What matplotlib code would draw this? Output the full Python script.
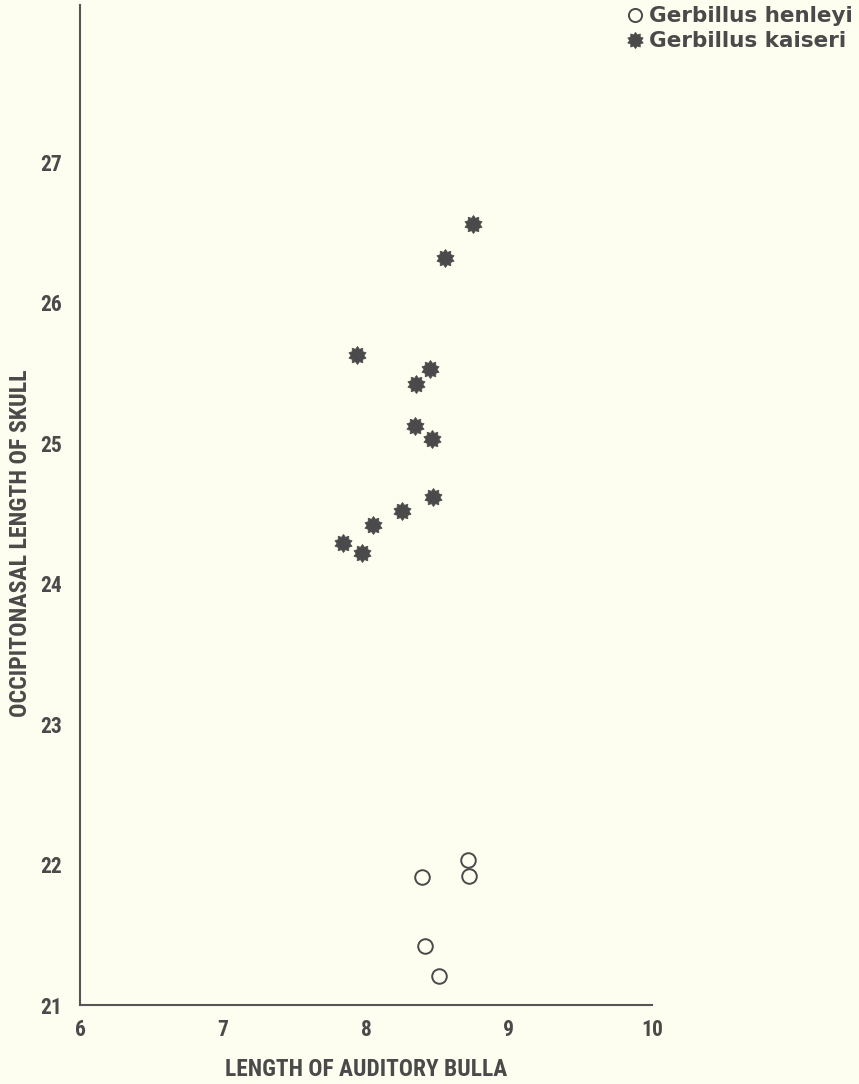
import matplotlib
matplotlib.use('Agg')
import matplotlib.pyplot as plt
import numpy as np
from matplotlib.path import Path

# data
henleyi_bulla = [8.71, 8.72, 8.39, 8.41, 8.51]
henleyi_skull = [22.03, 21.92, 21.91, 21.42, 21.21]

kaiseri_bulla = [8.75, 8.55, 7.94, 8.45, 8.35, 8.34, 8.46, 8.47, 8.25, 8.05, 7.84, 7.97]
kaiseri_skull = [26.56, 26.32, 25.63, 25.53, 25.42, 25.12, 25.03, 24.62, 24.52, 24.42, 24.29, 24.22]

x_ticks = [6, 7, 8, 9, 10]
y_ticks = [21, 22, 23, 24, 25, 26, 27]

bg = '#fdfdf0'
ink = '#4a4a4a'
narrow = ['Roboto Condensed', 'Liberation Sans Narrow', 'Roboto']

# gear-like star marker for kaiseri
n = 10
ang = np.linspace(0, 2 * np.pi, 2 * n, endpoint=False) + np.pi / 2
rad = np.where(np.arange(2 * n) % 2 == 0, 1.0, 0.72)
verts = np.column_stack([rad * np.cos(ang), rad * np.sin(ang)])
verts = np.vstack([verts, verts[:1]])
gear = Path(verts, closed=True)

fig = plt.figure(figsize=(8.59, 10.84), dpi=100, facecolor=bg)
ax = fig.add_axes([80 / 859, 1 - 1005 / 1084, (652 - 80) / 859, 1000 / 1084])
ax.set_facecolor(bg)

ax.plot(henleyi_bulla, henleyi_skull, linestyle='', marker='o', ms=10.5,
        mfc='none', mec=ink, mew=1.4, label='Gerbillus henleyi')
ax.plot(kaiseri_bulla, kaiseri_skull, linestyle='', marker=gear, ms=13,
        mfc=ink, mec=ink, mew=0.5, label='Gerbillus kaiseri')

ax.set_xlim(6, 10)
ax.set_ylim(21, 28.12)
ax.set_xticks(x_ticks)
ax.set_yticks(y_ticks)
ax.tick_params(length=0, colors=ink)
ax.tick_params(axis='y', pad=13)
ax.tick_params(axis='x', pad=10)
for lab in ax.get_xticklabels() + ax.get_yticklabels():
    lab.set_family(narrow)
    lab.set_fontsize(15.5)
    lab.set_fontweight('bold')
    lab.set_color(ink)

for s in ['top', 'right']:
    ax.spines[s].set_visible(False)
for s in ['left', 'bottom']:
    ax.spines[s].set_color('#555555')
    ax.spines[s].set_linewidth(1.5)

ax.set_xlabel('LENGTH OF AUDITORY BULLA', family=narrow, fontsize=16.8,
              fontweight='bold', color=ink, labelpad=12)
ax.set_ylabel('OCCIPITONASAL LENGTH OF SKULL', family=narrow, fontsize=17.2,
              fontweight='bold', color=ink)
ax.yaxis.set_label_coords(-48 / 572, (1005 - 543) / 1000)

leg = ax.legend(loc='upper right', bbox_to_anchor=(1.0, 1.0),
                bbox_transform=fig.transFigure, frameon=False,
                prop={'family': 'DejaVu Sans', 'weight': 'bold', 'size': 15.5},
                handletextpad=0.25, labelspacing=0.22, borderaxespad=0.0,
                borderpad=0.3, handlelength=0.8, markerscale=0.9)
for t in leg.get_texts():
    t.set_color(ink)

fig.savefig('out.png', dpi=100, facecolor=bg)
